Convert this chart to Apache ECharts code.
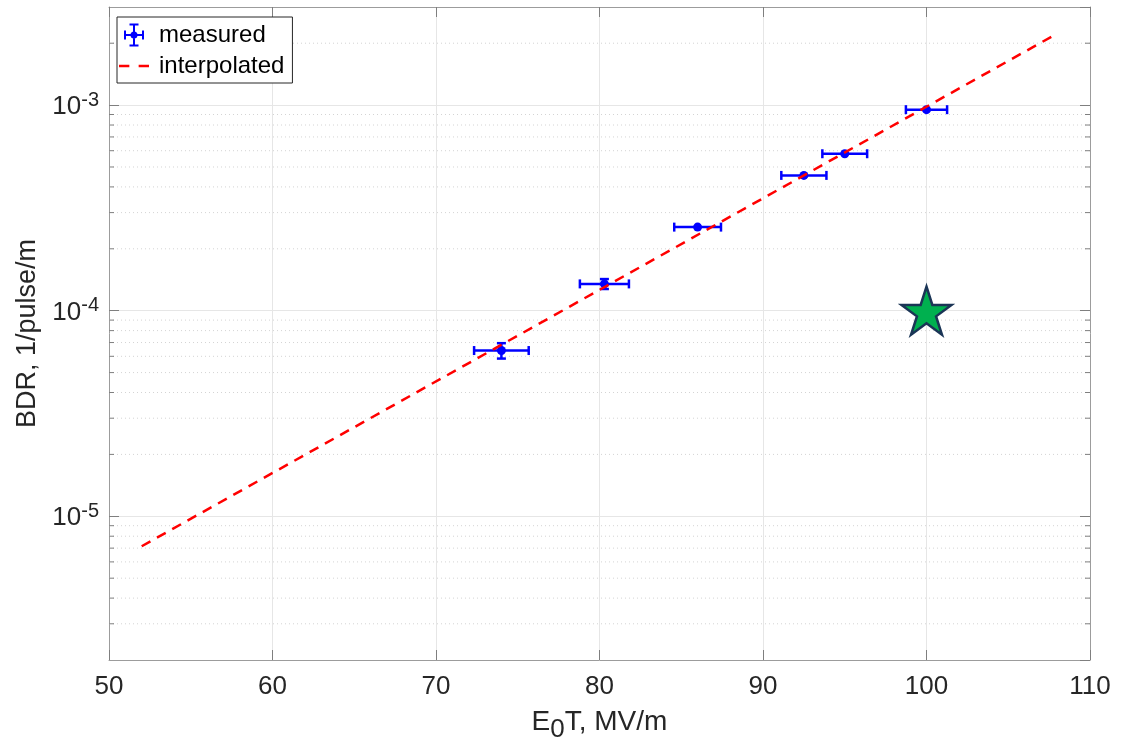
<!DOCTYPE html>
<html>
<head>
<meta charset="utf-8">
<title>BDR vs E0T</title>
<script src="https://cdn.jsdelivr.net/npm/echarts@6/dist/echarts.min.js"></script>
<style>
  html, body { margin: 0; padding: 0; background: #fff; }
  #chart { width: 1128px; height: 752px; }
</style>
</head>
<body>
<div id="chart"></div>
<script>
// Measured breakdown rate points with error bars
const e0t = [74.0, 80.3, 86.0, 92.5, 95.0, 100.0];
const bdr = [6.4e-5, 1.35e-4, 2.55e-4, 4.55e-4, 5.8e-4, 9.5e-4];
const e0tErr = [1.67, 1.5, 1.43, 1.38, 1.37, 1.26];
const bdrErr = [5.5e-6, 7.5e-6, 0, 0, 0, 0];

// Interpolated exponential trend (straight on the log axis)
const fitE0T = [52, 108];
const fitBDR = [7.15e-6, 2.23e-3];

// Target point
const targetE0T = [100];
const targetBDR = [1.0e-4];

// Axis settings
const xMin = 50, xMax = 110, xStep = 10;
const yMin = 2e-6, yMax = 3e-3;
const minorMantissas = [2, 3, 4, 5, 6, 7, 8, 9];
const minorDecades = [1e-6, 1e-5, 1e-4, 1e-3];

const minorTicks = [];
minorDecades.forEach(d => minorMantissas.forEach(m => {
  const v = m * d;
  if (v > yMin * 1.0001 && v < yMax * 0.9999) minorTicks.push(v);
}));

const FONT = '"Liberation Sans", Arial, Helvetica, sans-serif';
const AXIS_GRAY = '#9c9c9c';
const TICK_GRAY = '#7f7f7f';
const TEXT = '#262626';
const BLUE = '#0000ff';
const RED = '#ff0000';

// legend glyphs: error-bar cross with a dot, and a two-dash line
const errIcon = 'path://M0,10.5H20V12.5H0Z M0,7H2V16H0Z M18,7H20V16H18Z M9,0H11V23H9Z M5.5,0H14.5V2H5.5Z M5.5,21H14.5V23H5.5Z M6.5,11.5A3.5,3.5 0 1 1 13.5,11.5A3.5,3.5 0 1 1 6.5,11.5Z';
const dashIcon = 'path://M0,0H10V2.6H0Z M19,0H29V2.6H19Z';
const starPath = 'path://M50,0L61.2,34.5L97.6,34.5L68.2,55.9L79.4,90.5L50,69.1L20.6,90.5L31.8,55.9L2.4,34.5L38.8,34.5Z';

function isDecade(v) {
  const l = Math.log10(v);
  return Math.abs(l - Math.round(l)) < 1e-6;
}

const chart = echarts.init(document.getElementById('chart'), null, { renderer: 'canvas' });

const option = {
  animation: false,
  textStyle: { fontFamily: FONT },
  grid: { left: 109, right: 38, top: 7, bottom: 92, containLabel: false },
  legend: {
    left: 117, top: 17, orient: 'vertical',
    backgroundColor: '#ffffff', borderColor: '#262626', borderWidth: 1, borderRadius: 0,
    padding: [6, 8, 5, 2], itemGap: 7, itemWidth: 30, itemHeight: 23,
    textStyle: { fontSize: 24, color: '#000', fontFamily: FONT, padding: [0, 0, 0, 5] },
    data: [
      { name: 'measured', icon: errIcon, itemStyle: { color: BLUE } },
      { name: 'interpolated', icon: dashIcon, itemStyle: { color: RED } }
    ]
  },
  xAxis: [{
    type: 'value', min: xMin, max: xMax, interval: xStep,
    name: '{n|E}{s|0}{n|T, MV/m}', nameLocation: 'middle', nameGap: 48,
    nameTextStyle: {
      color: TEXT,
      rich: {
        n: { fontSize: 28, color: TEXT, fontFamily: FONT, verticalAlign: 'top' },
        s: { fontSize: 26, color: TEXT, fontFamily: FONT, verticalAlign: 'top', padding: [9, 0, 0, 0] }
      }
    },
    axisLine: { show: true, lineStyle: { color: AXIS_GRAY, width: 1 } },
    axisTick: { show: true, inside: true, length: 10, lineStyle: { color: TICK_GRAY } },
    axisLabel: { fontSize: 26, color: TEXT, margin: 14, fontFamily: FONT },
    splitLine: { show: true, lineStyle: { color: '#e6e6e6', width: 1 } }
  }, {
    type: 'value', position: 'top', min: xMin, max: xMax, interval: xStep,
    axisLine: { show: true, lineStyle: { color: AXIS_GRAY, width: 1 } },
    axisTick: { show: true, inside: true, length: 10, lineStyle: { color: TICK_GRAY } },
    axisLabel: { show: false },
    splitLine: { show: false }
  }],
  yAxis: [{
    type: 'log', logBase: 10, min: yMin, max: yMax,
    name: 'BDR, 1/pulse/m', nameLocation: 'middle', nameRotate: 90, nameGap: 68,
    nameTextStyle: { fontSize: 27, color: TEXT, fontFamily: FONT },
    axisLine: { show: true, lineStyle: { color: AXIS_GRAY, width: 1 } },
    axisTick: { show: true, inside: true, length: 10, lineStyle: { color: TICK_GRAY } },
    axisLabel: {
      margin: 10, color: TEXT, showMinLabel: false, showMaxLabel: false,
      formatter: v => isDecade(v) ? '{b|10}{s|' + Math.round(Math.log10(v)) + '}' : '',
      rich: {
        b: { fontSize: 26, color: TEXT, fontFamily: FONT, verticalAlign: 'bottom' },
        s: { fontSize: 20, color: TEXT, fontFamily: FONT, verticalAlign: 'bottom', padding: [0, 0, 10, 0] }
      }
    },
    splitLine: { show: true, lineStyle: { color: '#e6e6e6', width: 1 } }
  }, {
    type: 'log', logBase: 10, min: yMin, max: yMax, position: 'right',
    axisLine: { show: true, lineStyle: { color: AXIS_GRAY, width: 1 } },
    axisTick: { show: true, inside: true, length: 10, lineStyle: { color: TICK_GRAY } },
    axisLabel: { show: false },
    splitLine: { show: false }
  }],
  series: [
    {
      // dotted minor grid lines with short minor ticks on both sides
      type: 'custom', name: 'minor', silent: true, z: 1,
      xAxisIndex: 0, yAxisIndex: 0,
      data: minorTicks.map(v => [xMin, v]),
      encode: { x: 0, y: 1 },
      renderItem: (params, api) => {
        const v = api.value(1);
        const l = api.coord([xMin, v]);
        const r = api.coord([xMax, v]);
        return {
          type: 'group',
          children: [
            { type: 'line', shape: { x1: l[0], y1: l[1], x2: r[0], y2: r[1] },
              style: { stroke: '#d4d4d4', lineWidth: 1, lineDash: [1, 3] } },
            { type: 'line', shape: { x1: l[0], y1: l[1], x2: l[0] + 5, y2: l[1] },
              style: { stroke: TICK_GRAY, lineWidth: 1 } },
            { type: 'line', shape: { x1: r[0] - 5, y1: r[1], x2: r[0], y2: r[1] },
              style: { stroke: TICK_GRAY, lineWidth: 1 } }
          ]
        };
      }
    },
    {
      // error bars of the measured points
      type: 'custom', name: 'measured', z: 3,
      xAxisIndex: 0, yAxisIndex: 0,
      itemStyle: { color: BLUE },
      data: e0t.map((x, i) => [x, bdr[i], e0tErr[i], bdrErr[i]]),
      encode: { x: 0, y: 1 },
      renderItem: (params, api) => {
        const x = api.value(0), y = api.value(1), ex = api.value(2), ey = api.value(3);
        const pl = api.coord([x - ex, y]);
        const pr = api.coord([x + ex, y]);
        const st = { stroke: BLUE, lineWidth: 2.5 };
        const cap = 4.5;
        const children = [
          { type: 'line', shape: { x1: pl[0], y1: pl[1], x2: pr[0], y2: pr[1] }, style: st },
          { type: 'line', shape: { x1: pl[0], y1: pl[1] - cap, x2: pl[0], y2: pl[1] + cap }, style: st },
          { type: 'line', shape: { x1: pr[0], y1: pr[1] - cap, x2: pr[0], y2: pr[1] + cap }, style: st }
        ];
        if (ey > 0) {
          const pt = api.coord([x, y + ey]);
          const pb = api.coord([x, y - ey]);
          children.push(
            { type: 'line', shape: { x1: pt[0], y1: pt[1], x2: pb[0], y2: pb[1] }, style: st },
            { type: 'line', shape: { x1: pt[0] - cap, y1: pt[1], x2: pt[0] + cap, y2: pt[1] }, style: st },
            { type: 'line', shape: { x1: pb[0] - cap, y1: pb[1], x2: pb[0] + cap, y2: pb[1] }, style: st }
          );
        }
        return { type: 'group', children };
      }
    },
    {
      type: 'scatter', name: 'measured', z: 4,
      symbol: 'circle', symbolSize: 9,
      itemStyle: { color: BLUE, opacity: 1 },
      data: e0t.map((x, i) => [x, bdr[i]])
    },
    {
      type: 'line', name: 'interpolated', z: 5,
      symbol: 'none', showSymbol: false,
      lineStyle: { color: RED, width: 2.5, type: [10, 7.5] },
      itemStyle: { color: RED },
      data: fitE0T.map((x, i) => [x, fitBDR[i]])
    },
    {
      type: 'scatter', name: 'target', z: 6,
      symbol: starPath, symbolSize: [50, 48], symbolKeepAspect: false,
      itemStyle: { color: '#00b04f', borderColor: '#1b3556', borderWidth: 2.5, opacity: 1 },
      data: targetE0T.map((x, i) => [x, targetBDR[i]])
    }
  ]
};

chart.setOption(option);
</script>
</body>
</html>
